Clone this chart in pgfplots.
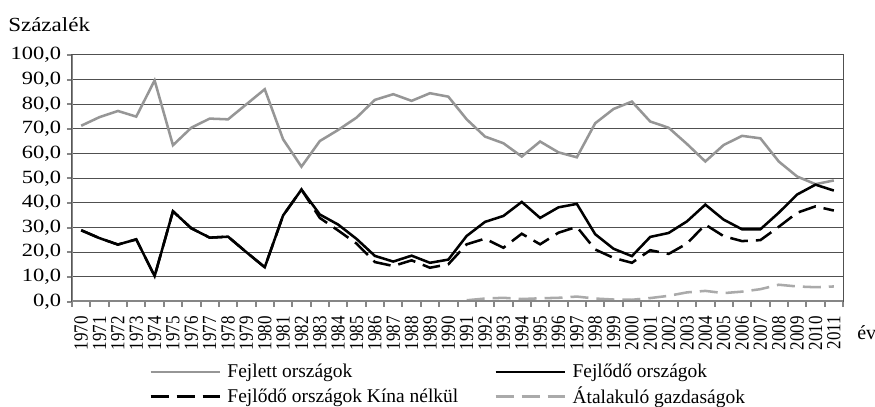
\documentclass[border=0pt]{standalone}
\usepackage{fontspec}
\setmainfont{Liberation Serif}
\newfontfamily\ytickfont[FakeStretch=1.2]{Liberation Serif}
\newfontfamily\xtickfont[FakeStretch=0.85]{Liberation Serif}
\newfontfamily\titlefont[FakeStretch=1.15]{Liberation Serif}
\usepackage{pgfplots}
\usepackage{pgfplotstable}
\pgfplotsset{compat=1.18}
\definecolor{devd}{RGB}{150,150,150}
\definecolor{trans}{RGB}{170,170,170}
\definecolor{axgray}{RGB}{134,134,134}
\definecolor{gridc}{RGB}{80,80,80}

\pgfplotstableread{
year fejlett fejlodo kina
1970 71.3 28.9 28.9
1971 74.8 25.7 25.7
1972 77.3 23.1 23.1
1973 75.0 25.2 25.2
1974 89.7 10.3 10.3
1975 63.4 36.6 36.6
1976 70.5 29.7 29.7
1977 74.2 25.9 25.9
1978 73.9 26.3 26.3
1979 80.0 20.0 20.0
1980 86.1 13.9 13.9
1981 65.8 34.9 34.9
1982 54.7 45.4 45.4
1983 65.1 35.3 33.9
1984 69.6 31.2 28.8
1985 74.6 25.4 23.5
1986 81.8 18.5 16.0
1987 84.1 16.2 14.4
1988 81.4 18.6 16.7
1989 84.5 15.7 13.7
1990 83.1 17.0 15.1
1991 73.9 26.6 23.2
1992 66.9 32.3 25.5
1993 64.2 34.7 21.8
1994 58.8 40.4 27.5
1995 64.9 33.9 23.2
1996 60.5 38.2 27.9
1997 58.5 39.6 30.3
1998 72.3 27.3 21.1
1999 78.1 21.4 17.7
2000 81.1 18.4 15.7
2001 73.0 26.2 20.8
2002 70.5 27.8 19.3
2003 63.9 32.5 23.5
2004 56.8 39.3 31.2
2005 63.5 33.2 26.5
2006 67.2 29.3 24.5
2007 66.2 29.3 24.9
2008 56.8 36.0 30.3
2009 50.7 43.4 36.0
2010 47.6 47.4 38.6
2011 49.1 45.0 36.9
}\maindata

\pgfplotstableread{
year atal
1991 0.5
1992 1.2
1993 1.5
1994 1.0
1995 1.3
1996 1.5
1997 2.0
1998 1.2
1999 0.8
2000 0.7
2001 1.4
2002 2.3
2003 3.7
2004 4.3
2005 3.4
2006 4.0
2007 5.0
2008 6.8
2009 6.1
2010 5.8
2011 6.1
}\atdata

\begin{document}
\begin{tikzpicture}
\begin{axis}[
  scale only axis,
  width=578.25pt, height=184.875pt,
  xmin=-0.5, xmax=41.5, ymin=0, ymax=100,
  ytick={0,10,...,100},
  xtick={0,...,41},
  xticklabel={\pgfmathparse{int(\tick+1970)}\pgfmathresult},
  minor xtick={-0.5,0.5,...,41.5},
  major x tick style={draw=none},
  tick align=outside, tick pos=left,
  major tick length=3.75pt, minor tick length=3.75pt,
  tick style={axgray, line width=1.5pt},
  ymajorgrids, grid style={gridc, line width=0.75pt},
  axis line style={gridc, line width=0.75pt},
  yticklabel style={font=\ytickfont\fontsize{14}{16}\selectfont, inner sep=0pt, xshift=-4.25pt,
    /pgf/number format/.cd, fixed, fixed zerofill, precision=1, use comma, assume math mode=true},
  xticklabel style={font=\xtickfont\fontsize{15}{17}\selectfont, rotate=90, anchor=east, inner sep=0pt},
  xticklabel shift=7pt,
  legend columns=2,
  legend cell align=left,
  legend style={draw=none, fill=none, inner sep=0pt,
    at={(axis description cs:0.0999,-0.3387)}, anchor=west,
    font=\fontsize{14.6}{17}\selectfont,
    row sep=1.5pt,
    /tikz/every odd column/.append style={column sep=3pt},
    /tikz/every even column/.append style={column sep=25pt}},
  legend image code/.code={\draw[#1] (0pt,0pt) -- (51.75pt,0pt);},
]
\addplot[devd, line width=1.9pt] table[x expr=\thisrow{year}-1970, y=fejlett] {\maindata};
\addlegendentry{Fejlett országok}
\addplot[black, line width=1.9pt] table[x expr=\thisrow{year}-1970, y=fejlodo] {\maindata};
\addlegendentry{Fejlődő országok}
\addplot[black, line width=1.9pt, dash pattern=on 13.5pt off 6pt] table[x expr=\thisrow{year}-1970, y=kina] {\maindata};
\addlegendentry{Fejlődő országok Kína nélkül}
\addplot[trans, line width=1.9pt, dash pattern=on 13.5pt off 6pt] table[x expr=\thisrow{year}-1970, y=atal] {\atdata};
\addlegendentry{Átalakuló gazdaságok}
\draw[axgray, line width=1.75pt] (rel axis cs:0,1) -- (rel axis cs:0,0) -- (rel axis cs:1,0);
\end{axis}
\node[anchor=base west, inner sep=0pt, font=\titlefont\fontsize{15}{17}\selectfont] at (-48pt,202.5pt) {Százalék};
\node[anchor=west, inner sep=0pt, font=\fontsize{15}{17}\selectfont] at (588.75pt,-23.6pt) {év};
\pgfresetboundingbox
\path[use as bounding box] (-54pt,-79.125pt) rectangle (602.25pt,226.125pt);
\end{tikzpicture}
\end{document}
